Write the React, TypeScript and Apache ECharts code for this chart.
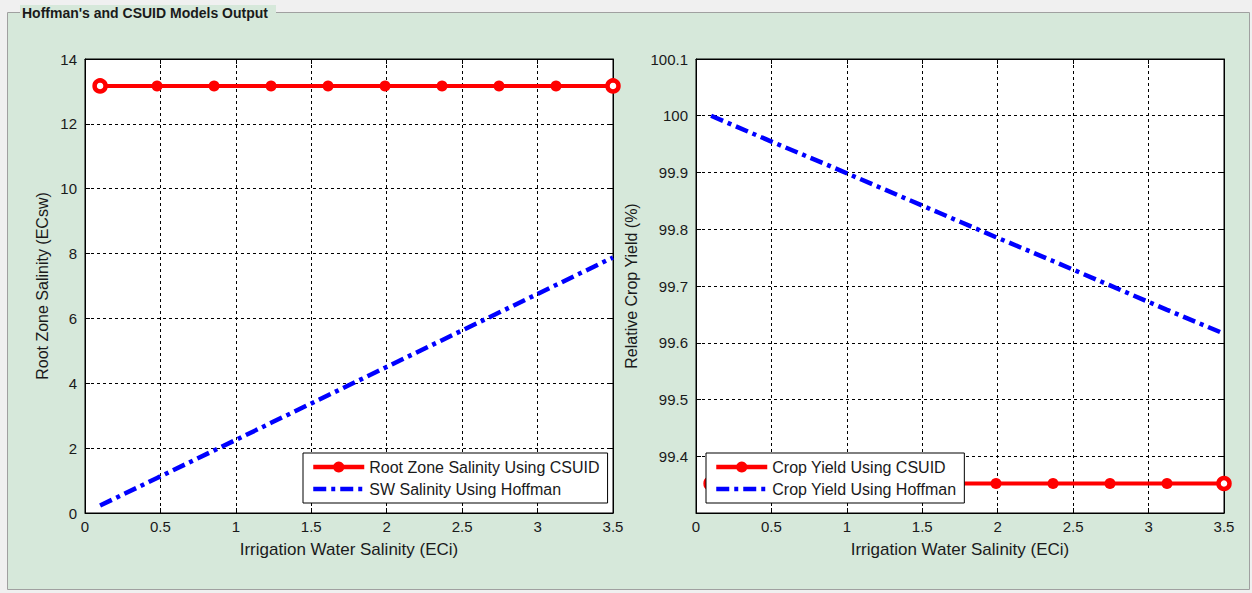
import React, { useEffect, useRef } from "react";
import * as echarts from "echarts";

const xVals = [0.1, 0.4778, 0.8556, 1.2333, 1.6111, 1.9889, 2.3667, 2.7444, 3.1222, 3.5];
const rootZoneCSUID = [13.17, 13.17, 13.17, 13.17, 13.17, 13.17, 13.17, 13.17, 13.17, 13.17];
const swHoffman = [0.23, 1.08, 1.93, 2.78, 3.63, 4.48, 5.33, 6.18, 7.03, 7.88];
const yieldCSUID = [99.352, 99.352, 99.352, 99.352, 99.352, 99.352, 99.352, 99.352, 99.352, 99.352];
const yieldHoffman = [100.0, 99.957, 99.915, 99.872, 99.829, 99.786, 99.744, 99.701, 99.658, 99.616];

const titleText = "Hoffman's and CSUID Models Output";
const xName = "Irrigation Water Salinity (ECi)";
const leftYName = "Root Zone Salinity (ECsw)";
const rightYName = "Relative Crop Yield (%)";
const leftNames = ["Root Zone Salinity Using CSUID", "SW Salinity Using Hoffman"];
const rightNames = ["Crop Yield Using CSUID", "Crop Yield Using Hoffman"];

const FONT = "'Liberation Sans', Arial, sans-serif";
const TXT = "#1a1a1a";
const BLUE_DASH = [13, 5, 4, 5];

const fmt = (v: number) => String(parseFloat(Number(v).toFixed(2)));

function mainX(gridIndex: number) {
  return {
    type: "value",
    gridIndex,
    position: "bottom",
    min: 0,
    max: 3.5,
    interval: 0.5,
    name: xName,
    nameLocation: "middle",
    nameGap: 28,
    nameTextStyle: { color: TXT, fontSize: 17, fontFamily: FONT },
    axisLine: { show: true, onZero: false, lineStyle: { color: "#000", width: 1 } },
    axisTick: { show: true, inside: true, length: 5, lineStyle: { color: "#000" } },
    axisLabel: { color: TXT, fontSize: 15, fontFamily: FONT, margin: 6, formatter: fmt },
    splitLine: { show: true, lineStyle: { color: "#000", width: 1, type: [3, 3] } },
  };
}

function topX(gridIndex: number) {
  return {
    type: "value",
    gridIndex,
    position: "top",
    min: 0,
    max: 3.5,
    interval: 0.5,
    axisLine: { show: true, onZero: false, lineStyle: { color: "#000", width: 1 } },
    axisTick: { show: true, inside: true, length: 5, lineStyle: { color: "#000" } },
    axisLabel: { show: false },
    splitLine: { show: false },
  };
}

function mainY(gridIndex: number, min: number, max: number, interval: number, name: string, showMin: boolean, gap: number) {
  return {
    type: "value",
    gridIndex,
    position: "left",
    min,
    max,
    interval,
    name,
    nameLocation: "middle",
    nameGap: gap,
    nameTextStyle: { color: TXT, fontSize: 16, fontFamily: FONT },
    axisLine: { show: true, onZero: false, lineStyle: { color: "#000", width: 1 } },
    axisTick: { show: true, inside: true, length: 5, lineStyle: { color: "#000" } },
    axisLabel: {
      color: TXT,
      fontSize: 15,
      fontFamily: FONT,
      margin: 8,
      showMinLabel: showMin,
      formatter: (v: number) => String(parseFloat(Number(v).toFixed(1))),
    },
    splitLine: { show: true, lineStyle: { color: "#000", width: 1, type: [3, 3] } },
  };
}

function rightY(gridIndex: number, min: number, max: number, interval: number) {
  return {
    type: "value",
    gridIndex,
    position: "right",
    min,
    max,
    interval,
    axisLine: { show: true, onZero: false, lineStyle: { color: "#000", width: 1 } },
    axisTick: { show: true, inside: true, length: 5, lineStyle: { color: "#000" } },
    axisLabel: { show: false },
    splitLine: { show: false },
  };
}

function redSeries(name: string, xi: number, yi: number, ys: number[]) {
  const last = xVals.length - 1;
  return {
    type: "line",
    name,
    xAxisIndex: xi,
    yAxisIndex: yi,
    data: xVals.map((x, i) =>
      i === 0 || i === last
        ? { value: [x, ys[i]], itemStyle: { color: "#ffffff", borderColor: "#ff0000", borderWidth: 4.5 } }
        : { value: [x, ys[i]] }
    ),
    symbol: "circle",
    symbolSize: 11,
    itemStyle: { color: "#ff0000" },
    lineStyle: { color: "#ff0000", width: 4 },
    z: 3,
  };
}

function blueSeries(name: string, xi: number, yi: number, ys: number[]) {
  return {
    type: "line",
    name,
    xAxisIndex: xi,
    yAxisIndex: yi,
    data: xVals.map((x, i) => [x, ys[i]]),
    symbol: "none",
    showSymbol: false,
    itemStyle: { color: "#0000ff" },
    lineStyle: { color: "#0000ff", width: 4.5, type: BLUE_DASH },
    z: 3,
  };
}

function legendCfg(names: string[], left: number, top: number) {
  return {
    data: [
      { name: names[0], itemStyle: { color: "#ff0000", borderWidth: 0 } },
      { name: names[1], itemStyle: { color: "rgba(0,0,0,0)", borderWidth: 0 } },
    ],
    orient: "vertical",
    left,
    top,
    backgroundColor: "#ffffff",
    borderColor: "#000",
    borderWidth: 1,
    padding: [6, 8, 6, 8],
    itemWidth: 51,
    itemHeight: 14,
    itemGap: 6,
    lineStyle: { width: 4.5 },
    textStyle: { color: TXT, fontSize: 16, fontFamily: FONT },
    selectedMode: false,
  };
}

export default function App() {
  const ref = useRef<HTMLDivElement>(null);
  useEffect(() => {
    if (!ref.current) return;
    const chart = echarts.init(ref.current, undefined, { renderer: "svg" });
    const option = {
      animation: false,
      backgroundColor: "#f0f0f0",
      graphic: [
        {
          type: "rect",
          shape: { x: 7.5, y: 12.5, width: 1242, height: 577 },
          style: { fill: "#d6e8da", stroke: "#a0a0a0", lineWidth: 1 },
          z: -10,
        },
        {
          type: "rect",
          shape: { x: 20, y: 5, width: 256, height: 16 },
          style: { fill: "#d6e8da" },
          z: -9,
        },
        {
          type: "text",
          x: 22,
          y: 13,
          style: {
            text: titleText,
            fill: "#1a1a1a",
            font: `bold 14px ${FONT}`,
            verticalAlign: "middle",
          },
          z: -8,
        },
      ],
      grid: [
        { left: 85, top: 59, width: 528, height: 454, show: true, backgroundColor: "#fff", borderColor: "#000", borderWidth: 1, containLabel: false },
        { left: 696, top: 59, width: 528, height: 454, show: true, backgroundColor: "#fff", borderColor: "#000", borderWidth: 1, containLabel: false },
      ],
      xAxis: [mainX(0), topX(0), mainX(1), topX(1)],
      yAxis: [
        mainY(0, 0, 14, 2, leftYName, true, 35),
        rightY(0, 0, 14, 2),
        mainY(1, 99.3, 100.1, 0.1, rightYName, false, 57),
        rightY(1, 99.3, 100.1, 0.1),
      ],
      legend: [legendCfg(leftNames, 303, 453), legendCfg(rightNames, 706, 453)],
      series: [
        redSeries(leftNames[0], 0, 0, rootZoneCSUID),
        blueSeries(leftNames[1], 0, 0, swHoffman),
        redSeries(rightNames[0], 2, 2, yieldCSUID),
        blueSeries(rightNames[1], 2, 2, yieldHoffman),
      ],
    };
    chart.setOption(option as any);
    return () => chart.dispose();
  }, []);
  return (
    <div style={{ position: "absolute", left: 0, top: 0, width: 1252, height: 593 }}>
      <div ref={ref} style={{ width: 1252, height: 593 }} />
    </div>
  );
}
